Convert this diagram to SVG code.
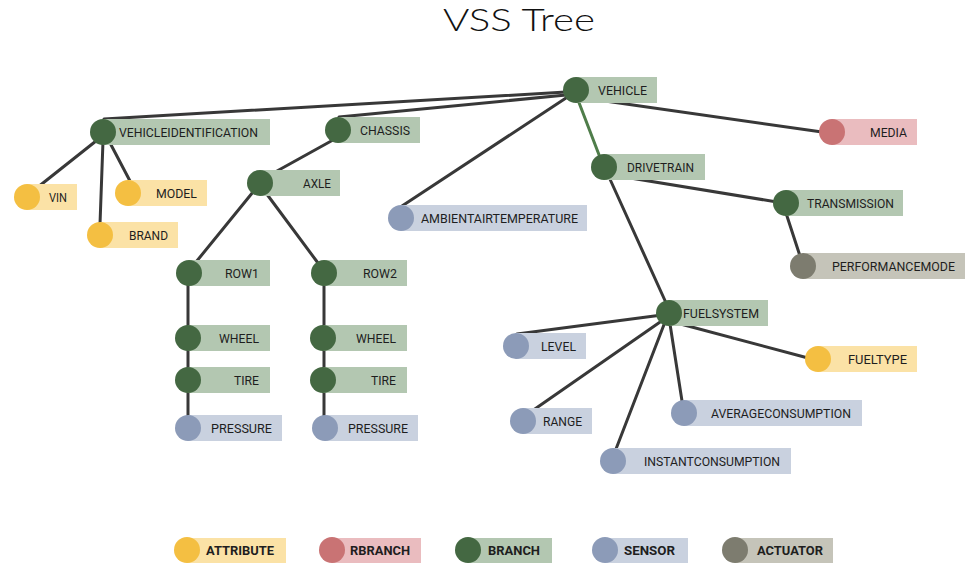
<svg xmlns="http://www.w3.org/2000/svg" width="978" height="563" viewBox="0 0 978 563">
<style>
.bg{fill:#ffffff}
.e{stroke:#383838;stroke-width:3;fill:none;stroke-linecap:round}
.eg{stroke:#4f7d4a;stroke-width:3;fill:none;stroke-linecap:round}
.t{font-family:Roboto,"Liberation Sans",sans-serif;font-size:13px;fill:#1e1e1e}
.lt{font-family:Roboto,"Liberation Sans",sans-serif;font-size:13px;font-weight:bold;fill:#1e1e1e}
.title{font-family:Lato,"Open Sans",sans-serif;font-size:31px;font-weight:300;fill:#111111}
.br circle{fill:#446842}.br rect{fill:#b3c7b1}
.at circle{fill:#f4bf42}.at rect{fill:#fbe2a6}
.rb circle{fill:#c97374}.rb rect{fill:#eabcbf}
.se circle{fill:#8c9bb8}.se rect{fill:#c9d1df}
.ac circle{fill:#7d7c6f}.ac rect{fill:#c5c4b9}
</style>
<rect class="bg" width="978" height="563"/>
<text class="title" x="443" y="31" textLength="152" lengthAdjust="spacingAndGlyphs">VSS Tree</text>
<g id="connectors">
<line class="e" x1="566" y1="92" x2="104" y2="119"/>
<line class="e" x1="566" y1="95" x2="339" y2="117"/>
<line class="e" x1="566" y1="98" x2="402" y2="206"/>
<line class="eg" x1="578" y1="100" x2="601" y2="160"/>
<line class="e" x1="584" y1="98" x2="822" y2="132"/>
<line class="e" x1="96" y1="141" x2="38" y2="187"/>
<line class="e" x1="103" y1="141" x2="100" y2="224"/>
<line class="e" x1="109" y1="141" x2="130" y2="181"/>
<line class="e" x1="333" y1="140" x2="268" y2="176"/>
<line class="e" x1="253" y1="192" x2="196" y2="262"/>
<line class="e" x1="266" y1="193" x2="318" y2="263"/>
<line class="e" x1="188" y1="273" x2="188" y2="428"/>
<line class="e" x1="324" y1="273" x2="324" y2="428"/>
<line class="e" x1="612" y1="175" x2="777" y2="202"/>
<line class="e" x1="785" y1="210" x2="800" y2="256"/>
<line class="e" x1="609" y1="177" x2="667" y2="305"/>
<line class="e" x1="662" y1="315" x2="517" y2="334"/>
<line class="e" x1="663" y1="320" x2="532" y2="411"/>
<line class="e" x1="665" y1="322" x2="616" y2="449"/>
<line class="e" x1="670" y1="324" x2="682" y2="401"/>
<line class="e" x1="673" y1="322" x2="808" y2="358"/>
</g>
<g id="n-vehicle" class="br"><rect x="576" y="77" width="81" height="26"/><circle cx="576" cy="90" r="13"/><text class="t" x="598" y="95" textLength="49" lengthAdjust="spacingAndGlyphs">VEHICLE</text></g>
<g id="n-vehicleidentification" class="br"><rect x="103" y="119" width="167" height="26"/><circle cx="103" cy="132" r="13"/><text class="t" x="119" y="137" textLength="139" lengthAdjust="spacingAndGlyphs">VEHICLEIDENTIFICATION</text></g>
<g id="n-vin" class="at"><rect x="27" y="184" width="50" height="26"/><circle cx="27" cy="197" r="13"/><text class="t" x="49" y="202" textLength="18" lengthAdjust="spacingAndGlyphs">VIN</text></g>
<g id="n-model" class="at"><rect x="128" y="180" width="79" height="26"/><circle cx="128" cy="193" r="13"/><text class="t" x="156" y="198" textLength="41" lengthAdjust="spacingAndGlyphs">MODEL</text></g>
<g id="n-brand" class="at"><rect x="100" y="222" width="78" height="26"/><circle cx="100" cy="235" r="13"/><text class="t" x="129" y="240" textLength="39" lengthAdjust="spacingAndGlyphs">BRAND</text></g>
<g id="n-chassis" class="br"><rect x="338" y="117" width="82" height="26"/><circle cx="338" cy="130" r="13"/><text class="t" x="360" y="135" textLength="50" lengthAdjust="spacingAndGlyphs">CHASSIS</text></g>
<g id="n-axle" class="br"><rect x="260" y="170" width="80" height="26"/><circle cx="260" cy="183" r="13"/><text class="t" x="303" y="188" textLength="28" lengthAdjust="spacingAndGlyphs">AXLE</text></g>
<g id="n-ambientairtemperature" class="se"><rect x="401" y="205" width="186" height="26"/><circle cx="401" cy="218" r="13"/><text class="t" x="421" y="223" textLength="157" lengthAdjust="spacingAndGlyphs">AMBIENTAIRTEMPERATURE</text></g>
<g id="n-drivetrain" class="br"><rect x="604" y="154" width="101" height="26"/><circle cx="604" cy="167" r="13"/><text class="t" x="627" y="172" textLength="67" lengthAdjust="spacingAndGlyphs">DRIVETRAIN</text></g>
<g id="n-media" class="rb"><rect x="832" y="119" width="85" height="26"/><circle cx="832" cy="132" r="13"/><text class="t" x="870" y="137" textLength="37" lengthAdjust="spacingAndGlyphs">MEDIA</text></g>
<g id="n-transmission" class="br"><rect x="786" y="190" width="117" height="26"/><circle cx="786" cy="203" r="13"/><text class="t" x="807" y="208" textLength="87" lengthAdjust="spacingAndGlyphs">TRANSMISSION</text></g>
<g id="n-performancemode" class="ac"><rect x="803" y="253" width="162" height="26"/><circle cx="803" cy="266" r="13"/><text class="t" x="832" y="271" textLength="123" lengthAdjust="spacingAndGlyphs">PERFORMANCEMODE</text></g>
<g id="n-row1" class="br"><rect x="189" y="260" width="81" height="26"/><circle cx="189" cy="273" r="13"/><text class="t" x="225" y="278" textLength="34" lengthAdjust="spacingAndGlyphs">ROW1</text></g>
<g id="n-wheel1" class="br"><rect x="188" y="325" width="82" height="26"/><circle cx="188" cy="338" r="13"/><text class="t" x="219" y="343" textLength="40" lengthAdjust="spacingAndGlyphs">WHEEL</text></g>
<g id="n-tire1" class="br"><rect x="188" y="367" width="82" height="26"/><circle cx="188" cy="380" r="13"/><text class="t" x="234" y="385" textLength="25" lengthAdjust="spacingAndGlyphs">TIRE</text></g>
<g id="n-pressure1" class="se"><rect x="188" y="415" width="94" height="26"/><circle cx="188" cy="428" r="13"/><text class="t" x="211" y="433" textLength="61" lengthAdjust="spacingAndGlyphs">PRESSURE</text></g>
<g id="n-row2" class="br"><rect x="324" y="260" width="83" height="26"/><circle cx="324" cy="273" r="13"/><text class="t" x="363" y="278" textLength="34" lengthAdjust="spacingAndGlyphs">ROW2</text></g>
<g id="n-wheel2" class="br"><rect x="323" y="325" width="84" height="26"/><circle cx="323" cy="338" r="13"/><text class="t" x="356" y="343" textLength="40" lengthAdjust="spacingAndGlyphs">WHEEL</text></g>
<g id="n-tire2" class="br"><rect x="323" y="367" width="84" height="26"/><circle cx="323" cy="380" r="13"/><text class="t" x="371" y="385" textLength="25" lengthAdjust="spacingAndGlyphs">TIRE</text></g>
<g id="n-pressure2" class="se"><rect x="325" y="415" width="93" height="26"/><circle cx="325" cy="428" r="13"/><text class="t" x="348" y="433" textLength="60" lengthAdjust="spacingAndGlyphs">PRESSURE</text></g>
<g id="n-fuelsystem" class="br"><rect x="669" y="300" width="99" height="26"/><circle cx="669" cy="313" r="13"/><text class="t" x="683" y="318" textLength="76" lengthAdjust="spacingAndGlyphs">FUELSYSTEM</text></g>
<g id="n-level" class="se"><rect x="516" y="333" width="70" height="26"/><circle cx="516" cy="346" r="13"/><text class="t" x="541" y="351" textLength="35" lengthAdjust="spacingAndGlyphs">LEVEL</text></g>
<g id="n-fueltype" class="at"><rect x="818" y="346" width="99" height="26"/><circle cx="818" cy="359" r="13"/><text class="t" x="848" y="364" textLength="59" lengthAdjust="spacingAndGlyphs">FUELTYPE</text></g>
<g id="n-range" class="se"><rect x="523" y="408" width="69" height="26"/><circle cx="523" cy="421" r="13"/><text class="t" x="543" y="426" textLength="39" lengthAdjust="spacingAndGlyphs">RANGE</text></g>
<g id="n-averageconsumption" class="se"><rect x="684" y="400" width="178" height="26"/><circle cx="684" cy="413" r="13"/><text class="t" x="711" y="418" textLength="140" lengthAdjust="spacingAndGlyphs">AVERAGECONSUMPTION</text></g>
<g id="n-instantconsumption" class="se"><rect x="613" y="448" width="178" height="26"/><circle cx="613" cy="461" r="13"/><text class="t" x="644" y="466" textLength="136" lengthAdjust="spacingAndGlyphs">INSTANTCONSUMPTION</text></g>
<g id="legend">
<g id="lg-attribute" class="at"><rect x="187" y="538" width="99" height="25"/><circle cx="187" cy="550" r="13"/><text class="lt" x="206" y="555" textLength="68" lengthAdjust="spacingAndGlyphs">ATTRIBUTE</text></g>
<g id="lg-rbranch" class="rb"><rect x="332" y="538" width="89" height="25"/><circle cx="332" cy="550" r="13"/><text class="lt" x="350" y="555" textLength="60" lengthAdjust="spacingAndGlyphs">RBRANCH</text></g>
<g id="lg-branch" class="br"><rect x="468" y="538" width="84" height="25"/><circle cx="468" cy="550" r="13"/><text class="lt" x="488" y="555" textLength="52" lengthAdjust="spacingAndGlyphs">BRANCH</text></g>
<g id="lg-sensor" class="se"><rect x="605" y="538" width="83" height="25"/><circle cx="605" cy="550" r="13"/><text class="lt" x="624" y="555" textLength="51" lengthAdjust="spacingAndGlyphs">SENSOR</text></g>
<g id="lg-actuator" class="ac"><rect x="735" y="538" width="98" height="25"/><circle cx="735" cy="550" r="13"/><text class="lt" x="757" y="555" textLength="66" lengthAdjust="spacingAndGlyphs">ACTUATOR</text></g>
</g>
</svg>
